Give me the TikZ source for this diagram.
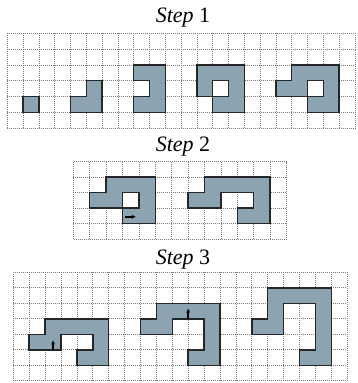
\documentclass[tikz,border=0pt]{standalone}
\usepackage{fontspec}
\setmainfont{Liberation Serif}
\usetikzlibrary{arrows.meta}
\definecolor{tilefill}{HTML}{8CA3B2}
\definecolor{tileedge}{HTML}{262626}
\definecolor{gridgray}{HTML}{7A7A7A}

% dotted square grid, #1 columns by #2 rows
\newcommand{\dotgrid}[2]{%
  \pgfmathtruncatemacro{\lastcol}{#1-1}%
  \pgfmathtruncatemacro{\lastrow}{#2-1}%
  \foreach \i in {1,...,\lastcol} \draw[gridline] (\i,0) -- (\i,#2);
  \foreach \j in {1,...,\lastrow} \draw[gridline] (0,\j) -- (#1,\j);
  \draw[gridline] (0,0) rectangle (#1,#2);
}

\begin{document}
\begin{tikzpicture}[
  x=1pt, y=-1pt,
  gridline/.style={gridgray, line width=0.7pt, dash pattern=on 1pt off 1pt},
  tile/.style={fill=tilefill, draw=tileedge, line width=1.5pt, line join=miter, even odd rule},
  nudge/.style={-{Stealth[length=4pt,width=4pt]}, black, line width=1.6pt},
  steptitle/.style={font=\fontsize{22}{24}\selectfont, anchor=base},
]
\useasboundingbox (0,0) rectangle (357,383);

% Titles
\node[steptitle] (title1) at (183,22.7) {\textit{Step} 1};
\node[steptitle] (title2) at (183,151.7) {\textit{Step} 2};
\node[steptitle] (title3) at (183,264) {\textit{Step} 3};

% Step 1: five shapes on a 22x6 grid
\begin{scope}[shift={(7.3pt,-33.3pt)}, x=15.8pt, y=-15.8pt]
  \dotgrid{22}{6}
  \filldraw[tile] (1,4) rectangle (2,5);
  \filldraw[tile] (5,3) -- (6,3) -- (6,5) -- (4,5) -- (4,4) -- (5,4) -- cycle;
  \filldraw[tile] (8,2) -- (10,2) -- (10,5) -- (8,5) -- (8,4) -- (9,4) -- (9,3) -- (8,3) -- cycle;
  \filldraw[tile] (12,2) -- (15,2) -- (15,5) -- (13,5) -- (13,4) -- (12,4) -- cycle
                  (13,3) -- (14,3) -- (14,4) -- (13,4) -- cycle;
  \filldraw[tile] (18,2) -- (21,2) -- (21,5) -- (19,5) -- (19,4) -- (17,4) -- (17,3) -- (18,3) -- cycle
                  (19,3) -- (20,3) -- (20,4) -- (19,4) -- cycle;
\end{scope}

% Step 2: 13x5 grid
\begin{scope}[shift={(73.3pt,-161.7pt)}, x=16.4pt, y=-15.5pt]
  \dotgrid{13}{5}
  \filldraw[tile] (2,1) -- (5,1) -- (5,4) -- (3,4) -- (3,3) -- (1,3) -- (1,2) -- (2,2) -- cycle
                  (3,2) -- (4,2) -- (4,3) -- (3,3) -- cycle;
  \draw[nudge] (3.15,3.55) -- (3.8,3.55);
  \filldraw[tile] (8,1) -- (12,1) -- (12,4) -- (10,4) -- (10,3) -- (11,3) -- (11,2) -- (9,2)
                  -- (9,3) -- (7,3) -- (7,2) -- (8,2) -- cycle;
\end{scope}

% Step 3: 21x7 grid
\begin{scope}[shift={(13.3pt,-272.3pt)}, x=15.9pt, y=-15.5pt]
  \dotgrid{21}{7}
  \filldraw[tile] (2,3) -- (6,3) -- (6,6) -- (4,6) -- (4,5) -- (5,5) -- (5,4) -- (3,4)
                  -- (3,5) -- (1,5) -- (1,4) -- (2,4) -- cycle;
  \draw[nudge] (2.5,5) -- (2.5,4.4);
  \filldraw[tile] (9,2) -- (13,2) -- (13,6) -- (11,6) -- (11,5) -- (12,5) -- (12,3) -- (10,3)
                  -- (10,4) -- (8,4) -- (8,3) -- (9,3) -- cycle;
  \draw[nudge] (11,3) -- (11,2.35);
  \filldraw[tile] (16,1) -- (20,1) -- (20,6) -- (18,6) -- (18,5) -- (19,5) -- (19,2) -- (17,2)
                  -- (17,4) -- (15,4) -- (15,3) -- (16,3) -- cycle;
\end{scope}

\end{tikzpicture}
\end{document}
